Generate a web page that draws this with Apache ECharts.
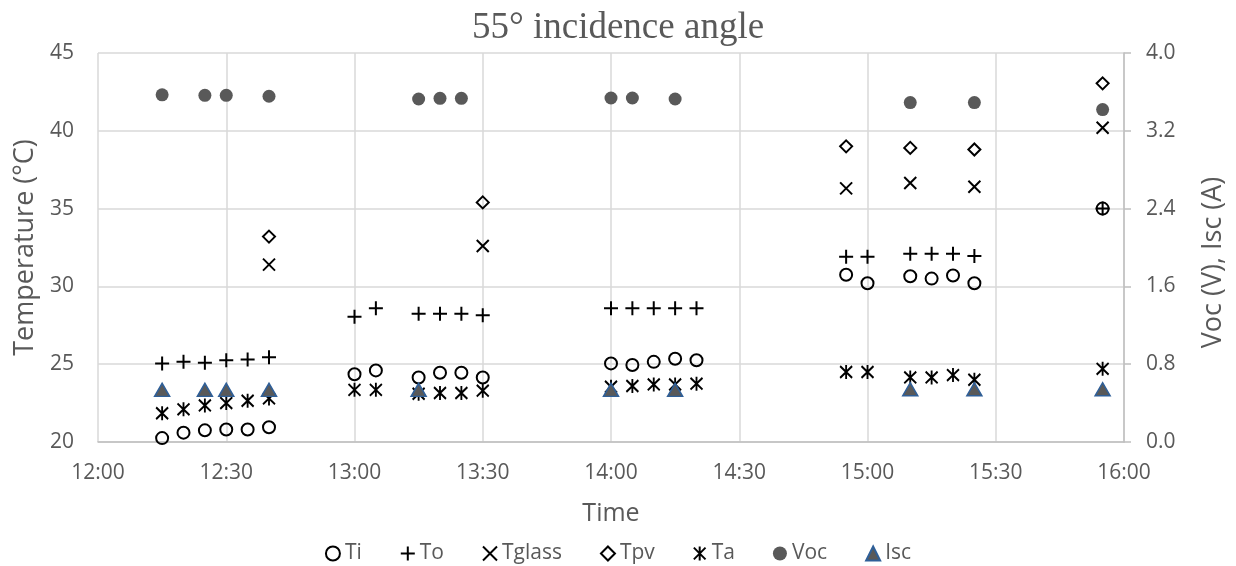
<!DOCTYPE html>
<html>
<head>
<meta charset="utf-8">
<script src="https://cdn.jsdelivr.net/npm/echarts@6/dist/echarts.min.js"></script>
<style>
html,body{margin:0;padding:0;background:#fff;}
#chart{width:1236px;height:566px;}
</style>
</head>
<body>
<div id="chart"></div>
<script>
const xTickLabels = ['12:00','12:30','13:00','13:30','14:00','14:30','15:00','15:30','16:00'];
const tempTimes = ['12:15','12:20','12:25','12:30','12:35','12:40',
                   '13:00','13:05','13:15','13:20','13:25','13:30',
                   '14:00','14:05','14:10','14:15','14:20',
                   '14:55','15:00','15:10','15:15','15:20','15:25',
                   '15:55'];
const tiValues = [20.25,20.6,20.75,20.8,20.8,20.95,
                  24.35,24.6,24.15,24.45,24.45,24.15,
                  25.05,24.95,25.15,25.35,25.25,
                  30.75,30.2,30.65,30.5,30.7,30.2,
                  35.0];
const toValues = [25.05,25.15,25.1,25.25,25.3,25.45,
                  28.05,28.6,28.25,28.25,28.25,28.15,
                  28.6,28.6,28.6,28.6,28.6,
                  31.9,31.9,32.1,32.1,32.1,31.95,
                  35.0];
const taValues = [21.85,22.1,22.35,22.5,22.65,22.8,
                  23.35,23.35,23.1,23.15,23.15,23.3,
                  23.55,23.6,23.7,23.7,23.75,
                  24.5,24.5,24.15,24.15,24.3,24.0,
                  24.7];
const surfTimes = ['12:40','13:30','14:55','15:10','15:25','15:55'];
const tglassValues = [31.4,32.6,36.3,36.65,36.4,40.2];
const tpvValues = [33.2,35.4,39.0,38.9,38.8,43.05];
const vocTimes = ['12:15','12:25','12:30','12:40','13:15','13:20','13:25','14:00','14:05','14:15','15:10','15:25','15:55'];
const vocValues = [3.57,3.565,3.565,3.555,3.527,3.534,3.534,3.537,3.537,3.527,3.49,3.49,3.418];
const iscTimes = ['12:15','12:25','12:30','12:40','13:15','14:00','14:15','15:10','15:25','15:55'];
const iscValues = [0.536,0.536,0.536,0.536,0.536,0.536,0.536,0.543,0.543,0.543];

function toMin(t){const p=t.split(':');return (+p[0])*60+(+p[1]);}
function pairs(times, vals){return times.map((t,i)=>[toMin(t), vals[i]]);}

const FONT = 'Open Sans';
const GREY = '#595959';
const black = {color:'transparent', borderColor:'#000', borderWidth:2, opacity:1};

const chart = echarts.init(document.getElementById('chart'), null, {renderer:'canvas'});
chart.setOption({
  animation:false,
  backgroundColor:'#fff',
  title:{
    text:'55\u00b0 incidence angle',
    left:'center', top:5,
    textStyle:{fontFamily:'Liberation Serif', fontSize:37, fontWeight:'normal', color:GREY}
  },
  legend:{
    left:'center', top:538,
    itemWidth:14, itemHeight:14, itemGap:38,
    textStyle:{fontFamily:FONT, fontSize:21, color:GREY},
    data:['Ti','To','Tglass','Tpv','Ta','Voc','Isc']
  },
  grid:{left:98, right:112, top:53, bottom:124, containLabel:false},
  xAxis:{
    type:'value', min:720, max:960, interval:30,
    name:'Time', nameLocation:'middle', nameGap:59,
    nameTextStyle:{fontFamily:FONT, fontSize:25, color:GREY},
    axisLine:{show:true, lineStyle:{color:'#bfbfbf', width:1.5}},
    axisTick:{show:false},
    axisLabel:{fontFamily:FONT, fontSize:21, color:GREY, margin:21,
      formatter:(v,i)=>xTickLabels[Math.round((v-720)/30)]},
    splitLine:{show:true, lineStyle:{color:'#d9d9d9', width:1.5}}
  },
  yAxis:[{
    type:'value', min:20, max:45, interval:5, position:'left',
    name:'Temperature (\u00b0C)', nameLocation:'middle', nameGap:54,
    nameTextStyle:{fontFamily:FONT, fontSize:27, color:GREY},
    axisLine:{show:false}, axisTick:{show:false},
    axisLabel:{fontFamily:FONT, fontSize:21, color:GREY, margin:24},
    splitLine:{show:true, lineStyle:{color:'#d9d9d9', width:1.5}}
  },{
    type:'value', min:0, max:4, interval:0.8, position:'right',
    name:'Voc (V), Isc (A)', nameLocation:'middle', nameGap:76,
    nameTextStyle:{fontFamily:FONT, fontSize:27, color:GREY, padding:[0,30,0,0]},
    axisLine:{show:true, lineStyle:{color:'#bfbfbf', width:1.5}},
    axisTick:{show:true, length:7, lineStyle:{color:'#bfbfbf', width:1.5}},
    axisLabel:{fontFamily:FONT, fontSize:21, color:GREY, margin:22, formatter:v=>v.toFixed(1)},
    splitLine:{show:false}
  }],
  series:[
    {name:'Ti', type:'scatter', yAxisIndex:0, data:pairs(tempTimes, tiValues),
     symbol:'circle', symbolSize:12, itemStyle:black},
    {name:'To', type:'scatter', yAxisIndex:0, data:pairs(tempTimes, toValues),
     symbol:'path://M0,5L10,5M5,0L5,10', symbolSize:14, itemStyle:black},
    {name:'Tglass', type:'scatter', yAxisIndex:0, data:pairs(surfTimes, tglassValues),
     symbol:'path://M0,0L10,10M10,0L0,10', symbolSize:12, itemStyle:black},
    {name:'Tpv', type:'scatter', yAxisIndex:0, data:pairs(surfTimes, tpvValues),
     symbol:'diamond', symbolSize:[12,12], itemStyle:black},
    {name:'Ta', type:'scatter', yAxisIndex:0, data:pairs(tempTimes, taValues),
     symbol:'path://M0,1L10,11M10,1L0,11M5,0L5,12', symbolSize:[12,14], itemStyle:black},
    {name:'Voc', type:'scatter', yAxisIndex:1, data:pairs(vocTimes, vocValues),
     symbol:'circle', symbolSize:13, itemStyle:{color:GREY, opacity:1}},
    {name:'Isc', type:'scatter', yAxisIndex:1, data:pairs(iscTimes, iscValues),
     symbol:'triangle', symbolSize:[15,13], itemStyle:{color:GREY, borderColor:'#2f5f98', borderWidth:1.5, opacity:1}}
  ]
});
</script>
</body>
</html>
